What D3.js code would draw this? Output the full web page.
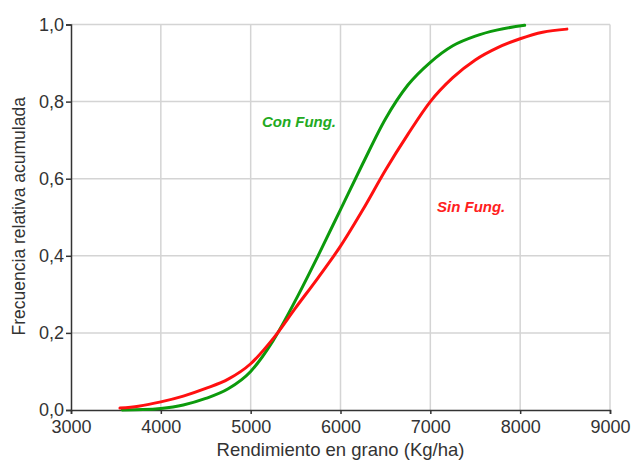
<!DOCTYPE html>
<html>
<head>
<meta charset="utf-8">
<script src="https://cdn.jsdelivr.net/npm/d3@7"></script>
<style>
  body { margin: 0; background: #fff; }
  svg { font-family: "Liberation Sans", Arial, sans-serif; }
</style>
</head>
<body>
<div id="chart"></div>
<script>
// Data
const conX = [3570, 3800, 4000, 4250, 4500, 4750, 5000, 5250, 5500, 5750, 6000, 6250, 6500, 6750, 7000, 7250, 7500, 7750, 8050];
const conY = [0.0, 0.001, 0.004, 0.013, 0.030, 0.055, 0.100, 0.180, 0.285, 0.400, 0.520, 0.640, 0.755, 0.843, 0.902, 0.945, 0.970, 0.986, 0.998];

const sinX = [3545, 3750, 4000, 4250, 4500, 4750, 5000, 5250, 5500, 5750, 6000, 6250, 6500, 6750, 7000, 7250, 7500, 7750, 8000, 8250, 8520];
const sinY = [0.005, 0.010, 0.021, 0.036, 0.056, 0.080, 0.120, 0.185, 0.265, 0.343, 0.425, 0.520, 0.622, 0.715, 0.800, 0.862, 0.908, 0.940, 0.963, 0.980, 0.988];

const xTicks = [3000, 4000, 5000, 6000, 7000, 8000, 9000];
const yTicks = [0, 0.2, 0.4, 0.6, 0.8, 1.0];
const yTickLabels = ["0,0", "0,2", "0,4", "0,6", "0,8", "1,0"];

const seriesNames = ["Con Fung.", "Sin Fung."];

// Dimensions
const dimensions = {
    width: 633,
    height: 460,
    margin: { top: 24.5, right: 23, bottom: 50, left: 71 }
};
dimensions.containerWidth = dimensions.width - dimensions.margin.left - dimensions.margin.right;
dimensions.containerHeight = dimensions.height - dimensions.margin.top - dimensions.margin.bottom;

// Scales
const xScale = d3.scaleLinear()
    .domain([3000, 9000])
    .range([0, dimensions.containerWidth]);

const yScale = d3.scaleLinear()
    .domain([0, 1])
    .range([dimensions.containerHeight, 0]);

const svg = d3.select('#chart')
    .append('svg')
    .attr('width', dimensions.width)
    .attr('height', dimensions.height);

const container = svg.append('g')
    .attr('transform', `translate(${dimensions.margin.left}, ${dimensions.margin.top})`);

// Grid
container.append('g')
    .selectAll('line')
    .data(xTicks.slice(1))
    .join('line')
    .attr('x1', d => xScale(d))
    .attr('x2', d => xScale(d))
    .attr('y1', 0)
    .attr('y2', dimensions.containerHeight)
    .attr('stroke', '#d4d4d4')
    .attr('stroke-width', 1.5);

container.append('g')
    .selectAll('line')
    .data(yTicks.slice(1))
    .join('line')
    .attr('x1', 0)
    .attr('x2', dimensions.containerWidth)
    .attr('y1', d => yScale(d))
    .attr('y2', d => yScale(d))
    .attr('stroke', '#d4d4d4')
    .attr('stroke-width', 1.5);

// Axes
const xAxis = d3.axisBottom(xScale)
    .tickValues(xTicks)
    .tickSize(4)
    .tickPadding(6)
    .tickFormat(d => d);
const xAxisGroup = container.append('g')
    .attr('transform', `translate(0, ${dimensions.containerHeight})`)
    .call(xAxis);

const yAxis = d3.axisLeft(yScale)
    .tickValues(yTicks)
    .tickSize(5)
    .tickPadding(2)
    .tickFormat((d, i) => yTickLabels[i]);
const yAxisGroup = container.append('g')
    .call(yAxis);

[xAxisGroup, yAxisGroup].forEach(g => {
    g.select('.domain').attr('stroke', '#333').attr('stroke-width', 1.5);
    g.selectAll('.tick line').attr('stroke', '#333').attr('stroke-width', 1.5);
    g.selectAll('.tick text')
        .attr('fill', '#333')
        .style('font-size', '18px');
});
// first x label sits a little lower so it clears "0,0"
xAxisGroup.selectAll('.tick text').attr('dy', '0.74em');

// Axis titles
svg.append('text')
    .attr('x', dimensions.margin.left + dimensions.containerWidth / 2)
    .attr('y', 456)
    .attr('text-anchor', 'middle')
    .attr('fill', '#333')
    .style('font-size', '18.5px')
    .text('Rendimiento en grano (Kg/ha)');

svg.append('text')
    .attr('transform', `translate(25, ${dimensions.margin.top + dimensions.containerHeight / 2 - 1}) rotate(-90)`)
    .attr('text-anchor', 'middle')
    .attr('fill', '#333')
    .style('font-size', '17.5px')
    .text('Frecuencia relativa acumulada');

// Lines
const line = d3.line()
    .x(d => xScale(d[0]))
    .y(d => yScale(d[1]))
    .curve(d3.curveMonotoneX);

const series = [
    { name: seriesNames[0], points: d3.zip(conX, conY), color: '#0c9a0c' },
    { name: seriesNames[1], points: d3.zip(sinX, sinY), color: '#ff1010' }
];

container.selectAll('path.serie')
    .data(series)
    .join('path')
    .attr('class', 'serie')
    .attr('d', d => line(d.points))
    .attr('fill', 'none')
    .attr('stroke', d => d.color)
    .attr('stroke-width', 3)
    .attr('stroke-linecap', 'round');

// Labels
const labels = [
    { text: seriesNames[0], x: 5125, y: 0.733, color: '#22aa22' },
    { text: seriesNames[1], x: 7074, y: 0.513, color: '#ff2020' }
];
container.selectAll('text.etiqueta')
    .data(labels)
    .join('text')
    .attr('class', 'etiqueta')
    .attr('x', d => xScale(d.x))
    .attr('y', d => yScale(d.y))
    .attr('fill', d => d.color)
    .style('font-size', '15px')
    .style('font-weight', 'bold')
    .style('font-style', 'italic')
    .text(d => d.text);
</script>
</body>
</html>
